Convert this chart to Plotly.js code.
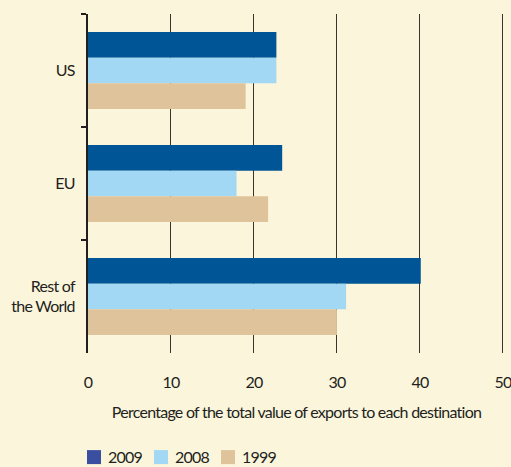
<!DOCTYPE html>
<html>
<head>
<meta charset="utf-8">
<script src="https://cdn.plot.ly/plotly-3.0.1.min.js"></script>
<style>
html,body{margin:0;padding:0;background:#FBF5DC;}
#chart{width:511px;height:467px;}
#chart text{letter-spacing:-0.75px;}
#chart .legend *{clip-path:none !important;}
#chart .legend .legendsymbols{transform:translate(6px,0);}
</style>
</head>
<body>
<div id="chart"></div>
<script>
const categories = ['US', 'EU', 'Rest of<br>the World'];
const seriesNames = ['2009', '2008', '1999'];
const values2009 = [22.7, 23.4, 40.1];
const values2008 = [22.7, 17.9, 31.1];
const values1999 = [19.0, 21.7, 30.0];
const xTicks = [0, 10, 20, 30, 40, 50];

const barColors = ['#005596', '#A2D8F4', '#DFC39A'];
const legendColors = ['#3A4FA0', '#A2D8F4', '#DFC39A'];
const allValues = [values2009, values2008, values1999];

const barTraces = seriesNames.map((name, i) => ({
  type: 'bar',
  orientation: 'h',
  name: name,
  y: categories,
  x: allValues[i],
  marker: {color: barColors[i], line: {width: 0}},
  showlegend: false,
  hoverinfo: 'x'
}));

const legendTraces = seriesNames.map((name, i) => ({
  type: 'scatter',
  mode: 'markers',
  name: name,
  x: [null],
  y: [null],
  marker: {symbol: 'square', size: 14, color: legendColors[i]},
  showlegend: true
}));

const fam = 'Lato, "Open Sans", sans-serif';
const font = {family: fam, color: '#231F20', size: 16};

const layout = {
  width: 511, height: 467,
  paper_bgcolor: '#FBF5DC',
  plot_bgcolor: '#FBF5DC',
  font: font,
  margin: {l: 88, r: 6, t: 14, b: 114},
  barmode: 'group',
  bargap: 0.32,
  bargroupgap: 0,
  xaxis: {
    range: [0, 50.25],
    tickvals: xTicks,
    ticktext: xTicks.map(String),
    showgrid: true,
    gridcolor: '#3A342C',
    gridwidth: 1,
    zeroline: false,
    showline: false,
    ticks: '',
    ticklabelstandoff: 18,
    ticklabeloverflow: 'allow',
    tickfont: {size: 16},
    title: {text: 'Percentage of the total value of exports to each destination', font: {size: 16}, standoff: 16},
    automargin: false,
    fixedrange: true
  },
  yaxis: {
    autorange: 'reversed',
    showline: true,
    linecolor: '#231F20',
    linewidth: 2,
    ticks: 'outside',
    tickson: 'boundaries',
    ticklen: 5,
    tickwidth: 2,
    tickcolor: '#231F20',
    showgrid: false,
    ticklabelstandoff: 8,
    tickfont: {size: 16},
    automargin: false,
    fixedrange: true
  },
  showlegend: true,
  legend: {
    orientation: 'h',
    xref: 'paper',
    x: -0.048, xanchor: 'left',
    yref: 'container',
    y: 0.021, yanchor: 'middle',
    font: {size: 16},
    bgcolor: 'rgba(0,0,0,0)',
    itemwidth: 30,
    entrywidth: 22,
    traceorder: 'normal'
  }
};

Plotly.newPlot('chart', barTraces.concat(legendTraces), layout, {displayModeBar: false, staticPlot: true});
</script>
</body>
</html>
